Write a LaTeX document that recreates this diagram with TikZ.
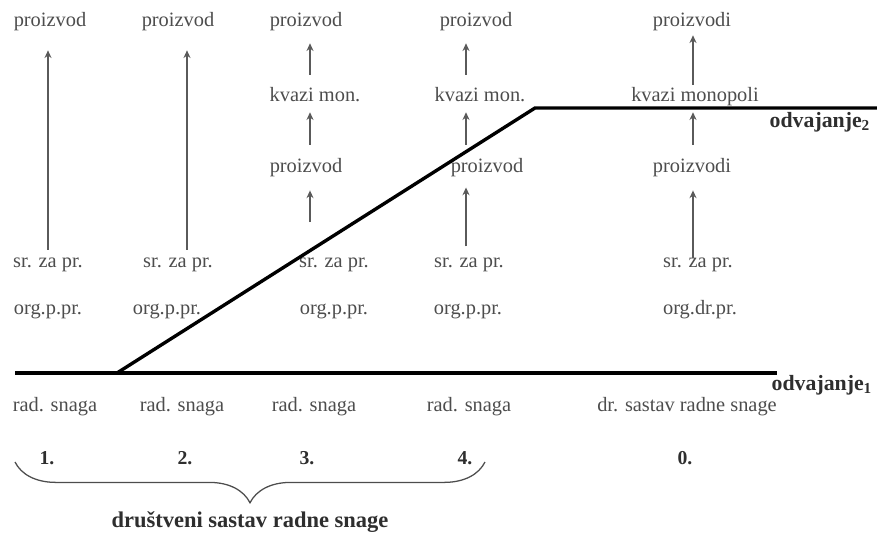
\documentclass[tikz,border=0pt]{standalone}
\usepackage{fontspec}
\setmainfont{Liberation Serif}
\usetikzlibrary{arrows.meta, decorations.pathreplacing}
\definecolor{txtgray}{HTML}{4D4D4D}
\definecolor{lblgray}{HTML}{2E2E2E}
\definecolor{arrgray}{HTML}{5A5A5A}

\begin{document}
\begin{tikzpicture}[x=0.025cm, y=-0.025cm,
  lbl/.style={font=\fontsize{14.5}{16}\selectfont, text=txtgray, inner sep=1pt, text height=9.5pt, text depth=3pt},
  bld/.style={font=\bfseries\fontsize{14}{16}\selectfont, text=lblgray, inner sep=1pt},
  arr/.style={-{Stealth[length=5.5pt, width=5pt]}, arrgray, line width=1pt, shorten <=2pt, shorten >=2pt},
  sep/.style={line width=2.4pt, black},
  brc/.style={decorate, decoration={brace, mirror, amplitude=29pt}, txtgray, line width=0.9pt}
]
  \useasboundingbox (0,0) rectangle (877,539);

  % arrow columns
  \coordinate (a1) at (48,0);
  \coordinate (a2) at (187,0);
  \coordinate (a3) at (310,0);
  \coordinate (a4) at (466,0);
  \coordinate (a5) at (693,0);

  % column 1
  \node[lbl] (p1) at (50,22) {proizvod};
  \node[lbl] (s1) at (48,263) {sr. za pr.};
  \node[lbl] (o1) at (48,310) {org.p.pr.};
  \node[lbl] (r1) at (55,407) {rad. snaga};
  \node[bld] (n1) at (47,458) {1.};

  % column 2
  \node[lbl] (p2) at (178,22) {proizvod};
  \node[lbl] (s2) at (178,263) {sr. za pr.};
  \node[lbl] (o2) at (167,310) {org.p.pr.};
  \node[lbl] (r2) at (182,407) {rad. snaga};
  \node[bld] (n2) at (185,458) {2.};

  % column 3
  \node[lbl] (p3) at (306,22) {proizvod};
  \node[lbl] (k3) at (315,97) {kvazi mon.};
  \node[lbl] (q3) at (306,168) {proizvod};
  \node[lbl] (s3) at (334,263) {sr. za pr.};
  \node[lbl] (o3) at (334,310) {org.p.pr.};
  \node[lbl] (r3) at (314,407) {rad. snaga};
  \node[bld] (n3) at (307,458) {3.};
  \coordinate (c3) at (310,222);

  % column 4
  \node[lbl] (p4) at (476,22) {proizvod};
  \node[lbl] (k4) at (480,97) {kvazi mon.};
  \node[lbl] (q4) at (487,168) {proizvod};
  \node[lbl] (s4) at (469,263) {sr. za pr.};
  \node[lbl] (o4) at (468,310) {org.p.pr.};
  \node[lbl] (r4) at (469,407) {rad. snaga};
  \node[bld] (n4) at (465,458) {4.};

  % column 0
  \node[lbl] (p5) at (692,22) {proizvodi};
  \node[lbl] (k5) at (695,97) {kvazi monopoli};
  \node[lbl] (q5) at (692,168) {proizvodi};
  \node[lbl] (s5) at (698,263) {sr. za pr.};
  \node[lbl] (o5) at (700,310) {org.dr.pr.};
  \node[lbl] (r5) at (687,407) {dr. sastav radne snage};
  \node[bld] (n5) at (685,458) {0.};

  % separation lines
  \coordinate (l0) at (15,373);
  \coordinate (l1) at (777,373);
  \coordinate (d0) at (117,373);
  \coordinate (d1) at (535,108);
  \coordinate (u1) at (877,108);
  \draw[sep] (l0) -- (l1);
  \draw[sep] (d0) -- (d1) -- (u1);
  \node[bld, font=\bfseries\fontsize{15.5}{17}\selectfont, anchor=west] (odv2) at (768,122) {odvajanje\textsubscript{2}};
  \node[bld, font=\bfseries\fontsize{15.5}{17}\selectfont, anchor=west] (odv1) at (770,385) {odvajanje\textsubscript{1}};

  % arrows
  \draw[arr, shorten >=12.7pt] (a1 |- s1.north) -- (a1 |- p1.south);
  \draw[arr, shorten >=12.7pt] (a2 |- s2.north) -- (a2 |- p2.south);
  \draw[arr, shorten <=8.4pt, shorten >=7.7pt] (a3 |- k3.north) -- (a3 |- p3.south);
  \draw[arr, shorten <=9.1pt, shorten >=3.4pt] (a3 |- q3.north) -- (a3 |- k3.south);
  \draw[arr, shorten <=0pt, shorten >=8.5pt] (c3) -- (a3 |- q3.south);
  \draw[arr, shorten <=8.4pt, shorten >=7.7pt] (a4 |- k4.north) -- (a4 |- p4.south);
  \draw[arr, shorten <=9.1pt, shorten >=3.4pt] (a4 |- q4.north) -- (a4 |- k4.south);
  \draw[arr, shorten <=4.3pt, shorten >=6.4pt] (a4 |- s4.north) -- (a4 |- q4.south);
  \draw[arr, shorten <=1.3pt, shorten >=2pt] (a5 |- k5.north) -- (a5 |- p5.south);
  \draw[arr, shorten <=9.1pt, shorten >=3.4pt] (a5 |- q5.north) -- (a5 |- k5.south);
  \draw[arr, shorten <=-3.7pt, shorten >=8.5pt] (a5 |- s5.north) -- (a5 |- q5.south);

  % brace
  \coordinate (b0) at (15,462);
  \coordinate (b1) at (485,462);
  \draw[brc] (b0) -- (b1);
  \node[bld, font=\bfseries\fontsize{16}{18}\selectfont] (drs) at (250,522) {društveni sastav radne snage};
\end{tikzpicture}
\end{document}
